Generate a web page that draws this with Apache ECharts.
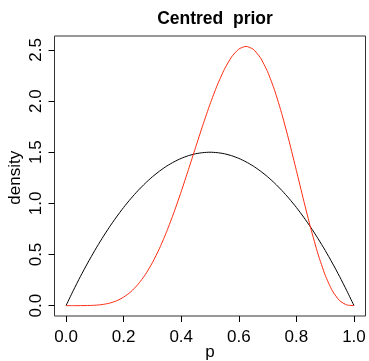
<!DOCTYPE html>
<html>
<head>
<meta charset="utf-8">
<script src="https://cdn.jsdelivr.net/npm/echarts@6/dist/echarts.min.js"></script>
<style>
  html, body { margin: 0; padding: 0; background: #fff; }
  #chart { width: 369px; height: 361px; }
</style>
</head>
<body>
<div id="chart"></div>
<script>
// p values read along the x axis
const pValues = [0, 0.025, 0.05, 0.075, 0.1, 0.125, 0.15, 0.175, 0.2, 0.225, 0.25,
  0.275, 0.3, 0.325, 0.35, 0.375, 0.4, 0.425, 0.45, 0.475, 0.5,
  0.525, 0.55, 0.575, 0.6, 0.625, 0.65, 0.675, 0.7, 0.725, 0.75,
  0.775, 0.8, 0.825, 0.85, 0.875, 0.9, 0.925, 0.95, 0.975, 1];
// black curve
const blackDensity = [0, 0.146, 0.285, 0.416, 0.54, 0.656, 0.765, 0.866, 0.96, 1.046, 1.125,
  1.196, 1.26, 1.316, 1.365, 1.406, 1.44, 1.466, 1.485, 1.496, 1.5,
  1.496, 1.485, 1.466, 1.44, 1.406, 1.365, 1.316, 1.26, 1.196, 1.125,
  1.046, 0.96, 0.866, 0.765, 0.656, 0.54, 0.416, 0.285, 0.146, 0];
// red curve
const redDensity = [0, 0, 0.0001, 0.001, 0.0037, 0.0103, 0.0235, 0.046, 0.083, 0.135, 0.208,
  0.302, 0.42, 0.562, 0.727, 0.913, 1.115, 1.329, 1.547, 1.764, 1.969,
  2.154, 2.311, 2.432, 2.508, 2.535, 2.507, 2.424, 2.287, 2.1, 1.869,
  1.605, 1.321, 1.032, 0.755, 0.505, 0.298, 0.144, 0.049, 0.007, 0];
// tick ranges (R style: labels only over the data range, box padded by 4%)
const xTickMin = 0, xTickMax = 1, xTickStep = 0.2;
const yTickMin = 0, yTickMax = 2.5, yTickStep = 0.5;
const xPad = 0.04, yPadLo = 0.1014, yPadHi = 0.1364;

const chart = echarts.init(document.getElementById('chart'));

const font = 'Liberation Sans, Arial, sans-serif';

// main plot box
const W = 369, H = 361;
const box = { left: 54.5, right: 3.5, top: 36, bottom: 45 };
const pxPerX = (W - box.left - box.right) / (xTickMax - xTickMin + 2 * xPad);
const pxPerY = (H - box.top - box.bottom) / (yTickMax - yTickMin + yPadLo + yPadHi);

const hidden = { show: false };

const option = {
  animation: false,
  title: {
    text: 'Centred  prior',
    left: 210,
    textAlign: 'center',
    top: 5,
    textStyle: { fontFamily: font, fontSize: 17.5, fontWeight: 'bold', color: '#000' }
  },
  grid: [
    { ...box, outerBoundsMode: 'none', containLabel: false, show: true, borderColor: '#333', borderWidth: 1 },
    // grid carrying the x ticks (spans 0..1 only)
    {
      left: box.left + xPad * pxPerX, right: box.right + xPad * pxPerX, top: box.top, bottom: box.bottom,
      outerBoundsMode: 'none', containLabel: false
    },
    // grid carrying the y ticks (spans 0..2.5 only)
    {
      left: box.left, right: box.right, top: box.top + yPadHi * pxPerY, bottom: box.bottom + yPadLo * pxPerY,
      outerBoundsMode: 'none', containLabel: false
    }
  ],
  xAxis: [
    {
      gridIndex: 0, type: 'value', min: xTickMin - xPad, max: xTickMax + xPad,
      axisLine: hidden, axisTick: hidden, axisLabel: hidden, splitLine: hidden
    },
    {
      gridIndex: 1, type: 'value', min: xTickMin, max: xTickMax, interval: xTickStep,
      name: 'p',
      nameLocation: 'middle',
      nameGap: 28,
      nameMoveOverlap: false,
      nameTextStyle: { fontFamily: font, fontSize: 17, color: '#000' },
      axisLine: { show: false, onZero: false },
      splitLine: hidden,
      axisTick: { show: true, inside: false, length: 6, lineStyle: { color: '#000' } },
      axisLabel: {
        margin: 13, fontFamily: font, fontSize: 17, color: '#000',
        showMinLabel: true, showMaxLabel: true,
        formatter: v => v.toFixed(1)
      }
    },
    { gridIndex: 2, type: 'value', show: false }
  ],
  yAxis: [
    {
      gridIndex: 0, type: 'value', min: yTickMin - yPadLo, max: yTickMax + yPadHi,
      axisLine: hidden, axisTick: hidden, axisLabel: hidden, splitLine: hidden
    },
    { gridIndex: 1, type: 'value', show: false },
    {
      gridIndex: 2, type: 'value', min: yTickMin, max: yTickMax, interval: yTickStep,
      name: 'density',
      nameLocation: 'middle',
      nameGap: 31,
      nameMoveOverlap: false,
      nameTextStyle: { fontFamily: font, fontSize: 17, color: '#000' },
      axisLine: { show: false, onZero: false },
      splitLine: hidden,
      axisTick: { show: true, inside: false, length: 6, lineStyle: { color: '#000' } },
      axisLabel: {
        margin: 10, rotate: 90, fontFamily: font, fontSize: 17, color: '#000',
        showMinLabel: true, showMaxLabel: true,
        formatter: v => v.toFixed(1)
      }
    }
  ],
  series: [
    {
      type: 'line',
      xAxisIndex: 0, yAxisIndex: 0,
      data: pValues.map((p, i) => [p, blackDensity[i]]),
      smooth: 0.2,
      showSymbol: false,
      lineStyle: { color: '#000', width: 1 }
    },
    {
      type: 'line',
      xAxisIndex: 0, yAxisIndex: 0,
      data: pValues.map((p, i) => [p, redDensity[i]]),
      smooth: 0.2,
      showSymbol: false,
      lineStyle: { color: '#ff2a10', width: 1 }
    }
  ]
};

chart.setOption(option);
</script>
</body>
</html>
